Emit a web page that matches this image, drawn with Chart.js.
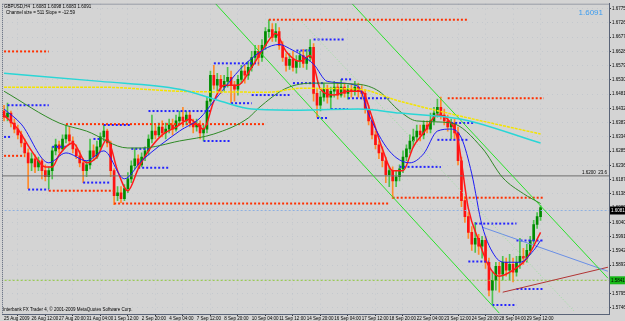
<!DOCTYPE html>
<html>
<head>
<meta charset="utf-8">
<script src="https://cdn.jsdelivr.net/npm/chart.js@4.4.0/dist/chart.umd.min.js"></script>
<style>
  html, body { margin: 0; padding: 0; background: #d4d4d4; overflow: hidden; }
  canvas { display: block; }
</style>
</head>
<body>
<canvas id="chart" width="625" height="321"></canvas>
<script>
// GBPUSD H4 candles
const opens = [
  1.6423, 1.6402, 1.6416, 1.6382, 1.6361, 1.6341, 1.6313, 1.6279, 1.6245, 1.6259,
  1.6231, 1.6252, 1.6218, 1.6197, 1.6218, 1.6286, 1.6307, 1.6293, 1.6327, 1.6341,
  1.6320, 1.6293, 1.6269, 1.6245, 1.6218, 1.6238, 1.6286, 1.6265, 1.6300, 1.6334,
  1.6354, 1.6313, 1.6218, 1.6132, 1.6142, 1.6122, 1.6156, 1.6190, 1.6235, 1.6259,
  1.6238, 1.6265, 1.6286, 1.6327, 1.6354, 1.6341, 1.6368, 1.6348, 1.6361, 1.6375,
  1.6361, 1.6389, 1.6402, 1.6389, 1.6409, 1.6382, 1.6368, 1.6375, 1.6348, 1.6361,
  1.6457, 1.6546, 1.6512, 1.6532, 1.6505, 1.6525, 1.6539, 1.6512, 1.6498, 1.6532,
  1.6560, 1.6546, 1.6573, 1.6607, 1.6628, 1.6607, 1.6649, 1.6696, 1.6703, 1.6676,
  1.6696, 1.6649, 1.6607, 1.6580, 1.6601, 1.6573, 1.6594, 1.6614, 1.6587, 1.6607,
  1.6642, 1.6484, 1.6443, 1.6471, 1.6498, 1.6471, 1.6491, 1.6505, 1.6478, 1.6505,
  1.6484, 1.6498, 1.6491, 1.6505, 1.6491, 1.6484, 1.6430, 1.6389, 1.6341, 1.6307,
  1.6279, 1.6252, 1.6204, 1.6218, 1.6183, 1.6197, 1.6224, 1.6265, 1.6293, 1.6320,
  1.6334, 1.6354, 1.6341, 1.6375, 1.6361, 1.6389, 1.6416, 1.6436, 1.6409, 1.6389,
  1.6368, 1.6382, 1.6348, 1.6252, 1.6115, 1.6060, 1.6006, 1.5965, 1.5985, 1.5958,
  1.5978, 1.5903, 1.5807, 1.5841, 1.5889, 1.5862, 1.5903, 1.5876, 1.5896, 1.5869,
  1.5903, 1.5923, 1.5917, 1.5944, 1.5978, 1.6033, 1.6060
];
const highs = [
  1.6443, 1.6450, 1.6423, 1.6395, 1.6375, 1.6354, 1.6327, 1.6293, 1.6279, 1.6272,
  1.6265, 1.6259, 1.6238, 1.6231, 1.6300, 1.6327, 1.6320, 1.6341, 1.6375, 1.6368,
  1.6334, 1.6307, 1.6286, 1.6259, 1.6252, 1.6327, 1.6307, 1.6320, 1.6348, 1.6375,
  1.6361, 1.6320, 1.6224, 1.6163, 1.6163, 1.6170, 1.6211, 1.6252, 1.6293, 1.6272,
  1.6279, 1.6300, 1.6341, 1.6409, 1.6375, 1.6382, 1.6389, 1.6382, 1.6395, 1.6395,
  1.6409, 1.6423, 1.6436, 1.6423, 1.6423, 1.6395, 1.6395, 1.6389, 1.6375, 1.6471,
  1.6560, 1.6580, 1.6553, 1.6546, 1.6546, 1.6573, 1.6560, 1.6525, 1.6546, 1.6580,
  1.6580, 1.6594, 1.6628, 1.6649, 1.6649, 1.6669, 1.6710, 1.6737, 1.6724, 1.6724,
  1.6710, 1.6662, 1.6621, 1.6621, 1.6628, 1.6614, 1.6628, 1.6635, 1.6635, 1.6669,
  1.6655, 1.6498, 1.6491, 1.6519, 1.6512, 1.6505, 1.6525, 1.6519, 1.6532, 1.6519,
  1.6512, 1.6512, 1.6525, 1.6519, 1.6512, 1.6498, 1.6443, 1.6402, 1.6354, 1.6320,
  1.6300, 1.6265, 1.6231, 1.6231, 1.6218, 1.6238, 1.6286, 1.6307, 1.6341, 1.6361,
  1.6375, 1.6375, 1.6389, 1.6389, 1.6416, 1.6436, 1.6464, 1.6471, 1.6430, 1.6409,
  1.6395, 1.6395, 1.6368, 1.6265, 1.6129, 1.6074, 1.6026, 1.6040, 1.5999, 1.5992,
  1.5992, 1.5917, 1.5869, 1.5903, 1.5903, 1.5923, 1.5917, 1.5930, 1.5917, 1.5923,
  1.5985, 1.5951, 1.5965, 1.5992, 1.6047, 1.6074, 1.6098
];
const lows = [
  1.6389, 1.6389, 1.6368, 1.6348, 1.6327, 1.6300, 1.6265, 1.6156, 1.6218, 1.6211,
  1.6218, 1.6190, 1.6183, 1.6156, 1.6190, 1.6272, 1.6279, 1.6286, 1.6313, 1.6307,
  1.6279, 1.6259, 1.6231, 1.6177, 1.6197, 1.6224, 1.6252, 1.6259, 1.6286, 1.6320,
  1.6300, 1.6197, 1.6101, 1.6115, 1.6108, 1.6115, 1.6142, 1.6177, 1.6224, 1.6224,
  1.6231, 1.6252, 1.6272, 1.6313, 1.6327, 1.6334, 1.6334, 1.6327, 1.6348, 1.6341,
  1.6354, 1.6375, 1.6368, 1.6375, 1.6368, 1.6348, 1.6354, 1.6327, 1.6320, 1.6348,
  1.6443, 1.6498, 1.6491, 1.6484, 1.6491, 1.6505, 1.6450, 1.6457, 1.6478, 1.6519,
  1.6519, 1.6532, 1.6560, 1.6587, 1.6580, 1.6594, 1.6635, 1.6676, 1.6662, 1.6662,
  1.6635, 1.6594, 1.6560, 1.6566, 1.6560, 1.6553, 1.6573, 1.6573, 1.6566, 1.6594,
  1.6457, 1.6402, 1.6423, 1.6457, 1.6450, 1.6430, 1.6471, 1.6464, 1.6471, 1.6471,
  1.6464, 1.6471, 1.6478, 1.6471, 1.6464, 1.6416, 1.6375, 1.6327, 1.6293, 1.6259,
  1.6231, 1.6177, 1.6163, 1.6122, 1.6163, 1.6183, 1.6211, 1.6252, 1.6279, 1.6300,
  1.6320, 1.6320, 1.6327, 1.6348, 1.6348, 1.6375, 1.6402, 1.6395, 1.6375, 1.6354,
  1.6327, 1.6327, 1.6238, 1.6094, 1.6040, 1.5985, 1.5944, 1.5937, 1.5930, 1.5917,
  1.5882, 1.5787, 1.5759, 1.5807, 1.5800, 1.5841, 1.5855, 1.5841, 1.5835, 1.5855,
  1.5882, 1.5896, 1.5903, 1.5930, 1.5965, 1.6019, 1.6047
];
const closes = [
  1.6402, 1.6416, 1.6382, 1.6361, 1.6341, 1.6313, 1.6279, 1.6245, 1.6259, 1.6231,
  1.6252, 1.6218, 1.6197, 1.6218, 1.6286, 1.6307, 1.6293, 1.6327, 1.6341, 1.6320,
  1.6293, 1.6269, 1.6245, 1.6218, 1.6238, 1.6286, 1.6265, 1.6300, 1.6334, 1.6354,
  1.6313, 1.6218, 1.6132, 1.6142, 1.6122, 1.6156, 1.6190, 1.6235, 1.6259, 1.6238,
  1.6265, 1.6286, 1.6327, 1.6354, 1.6341, 1.6368, 1.6348, 1.6361, 1.6375, 1.6361,
  1.6389, 1.6402, 1.6389, 1.6409, 1.6382, 1.6368, 1.6375, 1.6348, 1.6361, 1.6457,
  1.6546, 1.6512, 1.6532, 1.6505, 1.6525, 1.6539, 1.6512, 1.6498, 1.6532, 1.6560,
  1.6546, 1.6573, 1.6607, 1.6628, 1.6607, 1.6649, 1.6696, 1.6703, 1.6676, 1.6696,
  1.6649, 1.6607, 1.6580, 1.6601, 1.6573, 1.6594, 1.6614, 1.6587, 1.6607, 1.6642,
  1.6484, 1.6443, 1.6471, 1.6498, 1.6471, 1.6491, 1.6505, 1.6478, 1.6505, 1.6484,
  1.6498, 1.6491, 1.6505, 1.6491, 1.6484, 1.6430, 1.6389, 1.6341, 1.6307, 1.6279,
  1.6252, 1.6204, 1.6218, 1.6183, 1.6197, 1.6224, 1.6265, 1.6293, 1.6320, 1.6334,
  1.6354, 1.6341, 1.6375, 1.6361, 1.6389, 1.6416, 1.6436, 1.6409, 1.6389, 1.6368,
  1.6382, 1.6348, 1.6252, 1.6115, 1.6060, 1.6006, 1.5965, 1.5985, 1.5958, 1.5978,
  1.5903, 1.5807, 1.5841, 1.5889, 1.5862, 1.5903, 1.5876, 1.5896, 1.5869, 1.5903,
  1.5923, 1.5917, 1.5944, 1.5978, 1.6033, 1.6060, 1.6091
];

// time axis: one label every 8 bars
const xTickLabels = [
  "25 Aug 2009", "26 Aug 12:00", "27 Aug 20:00", "31 Aug 04:00", "1 Sep 12:00",
  "2 Sep 20:00", "4 Sep 04:00", "7 Sep 12:00", "8 Sep 20:00", "10 Sep 04:00",
  "11 Sep 12:00", "14 Sep 20:00", "16 Sep 04:00", "17 Sep 12:00", "18 Sep 20:00",
  "22 Sep 04:00", "23 Sep 12:00", "24 Sep 20:00", "28 Sep 04:00", "29 Sep 12:00"
];
const yTickValues = [
  1.6775, 1.6726, 1.6677, 1.6628, 1.6579, 1.6530, 1.6481, 1.6432, 1.6383, 1.6334, 1.6285,
  1.6236, 1.6187, 1.6138, 1.6089, 1.6040, 1.5991, 1.5942, 1.5893, 1.5844, 1.5795, 1.5746
];

// moving averages [bar, price]
const fastMA = [
  [0,1.6409],[4,1.6361],[8,1.6286],[12,1.6231],[14,1.6231],[16,1.6272],[20,1.6313],[24,1.6245],
  [27,1.6265],[30,1.6327],[33,1.6218],[36,1.6149],[39,1.6224],[42,1.6286],[46,1.6341],[50,1.6368],
  [54,1.6395],[58,1.6361],[61,1.6457],[64,1.6512],[68,1.6512],[72,1.6573],[76,1.6649],[79,1.6690],
  [82,1.6628],[86,1.6594],[89,1.6614],[92,1.6498],[96,1.6478],[100,1.6491],[104,1.6491],[107,1.6402],
  [110,1.6293],[113,1.6218],[116,1.6218],[119,1.6300],[122,1.6348],[126,1.6409],[129,1.6395],[132,1.6320],
  [135,1.6088],[138,1.5978],[141,1.5889],[144,1.5855],[148,1.5876],[152,1.5917],[156,1.6006]
];
const midMA = [
  [0,1.6430],[5,1.6378],[13,1.6245],[18,1.6279],[24,1.6252],[29,1.6286],[35,1.6190],[40,1.6252],
  [51,1.6354],[57,1.6399],[61,1.6457],[71,1.6594],[80,1.6652],[83,1.6638],[90,1.6584],[94,1.6525],
  [103,1.6508],[106,1.6413],[112,1.6286],[118,1.6245],[122,1.6276],[126,1.6354],[130,1.6361],[133,1.6330],
  [136,1.6207],[139,1.6029],[143,1.5920],[146,1.5903],[150,1.5903],[154,1.5944],[156,1.5978]
];
const slowMA = [
  [0,1.6491],[16,1.6382],[24,1.6354],[36,1.6296],[40,1.6296],[51,1.6320],[61,1.6344],[71,1.6399],
  [74,1.6433],[82,1.6501],[90,1.6519],[103,1.6515],[109,1.6491],[115,1.6423],[120,1.6389],[130,1.6382],
  [139,1.6296],[145,1.6194],[151,1.6139],[156,1.6105]
];
const yellowMA = [
  [0,1.6505],[28,1.6505],[51,1.6491],[77,1.6488],[86,1.6501],[103,1.6498],[115,1.6457],[130,1.6413],[156,1.6344]
];
const cyanMA = [
  [0,1.6553],[28,1.6525],[51,1.6498],[63,1.6457],[72,1.6430],[86,1.6426],[103,1.6430],[115,1.6416],[133,1.6395],[156,1.6313]
];

// dotted levels [price, fromBar, toBar]
const redLevels = [
  [1.6628,0,13],[1.6737,77,135],[1.6378,18,76],[1.6269,0,6],[1.6149,13,32],
  [1.6105,32,112],[1.6125,113,157],[1.6467,129,157]
];
const blueLevels = [
  [1.6443,1,13],[1.6334,0,2],[1.6300,14,18],[1.6327,26,28],[1.6153,7,13],[1.6177,23,31],
  [1.6375,29,37],[1.6293,37,42],[1.6228,39,48],[1.6423,42,60],[1.6320,58,66],[1.6587,61,74],
  [1.6450,66,72],[1.6478,72,83],[1.6631,85,89],[1.6669,90,99],[1.6519,84,93],[1.6399,91,94],
  [1.6430,95,100],[1.6467,100,112],[1.6532,98,101],[1.6382,130,137],[1.6324,126,135],
  [1.6231,115,127],[1.6036,137,149],[1.5978,149,157],[1.5906,135,141],[1.5811,149,157],[1.5756,142,149]
];

// drawn objects [bar, price] end points
const channelLow = [[61.5,1.6792],[144,1.5728]];
const channelHigh = [[101.2,1.6792],[175.6,1.5848]];
const channelMid = [[86,1.6737],[166,1.5732]];
const blueTrend = [[139.2,1.6023],[175.6,1.5872]];
const redTrend = [[145,1.5800],[175.6,1.5886]];
const fibLevel = 1.6200;
const bidPrice = 1.6081;
const alertPrice = 1.5841;

const bars = opens.map((o, i) => i);
const up = (i) => closes[i] >= opens[i];
const pts = (arr) => arr.map(([x, y]) => ({ x: x, y: y }));

function lineSet(data, color, width, dash, smooth) {
  return {
    type: "line", data: pts(data), borderColor: color, borderWidth: width,
    borderDash: dash || [], pointRadius: 0, fill: false,
    tension: smooth ? 0.4 : 0, cubicInterpolationMode: smooth ? "monotone" : "default",
    order: 1
  };
}
function levelSet(lv, color) {
  return {
    type: "line", data: [{ x: lv[1], y: lv[0] }, { x: lv[2], y: lv[0] }],
    borderColor: color, borderWidth: 2, borderDash: [2, 2], pointRadius: 0, order: 2
  };
}

const datasets = [
  {
    type: "bar", grouped: false, order: 20, barThickness: 1,
    data: bars.map((i) => ({ x: i, y: [lows[i], highs[i]] })),
    backgroundColor: (c) => (up(c.dataIndex) ? "#4fc24f" : "#ff8a2a")
  },
  {
    type: "bar", grouped: false, order: 19, barThickness: 2, minBarLength: 1,
    data: bars.map((i) => ({ x: i, y: [opens[i], closes[i]] })),
    backgroundColor: (c) => (up(c.dataIndex) ? "#008c00" : "#ff1212")
  },
  lineSet(cyanMA, "#2ad6d6", 1.5, null, true),
  lineSet(yellowMA, "#f4e400", 1.5, [3, 1], true),
  lineSet(slowMA, "#2f8a26", 1, null, true),
  lineSet(midMA, "#1c1cf5", 1, null, true),
  lineSet(fastMA, "#ff1a1a", 1.5, null, true),
  lineSet(channelLow, "#2be22b", 1),
  lineSet(channelHigh, "#2be22b", 1),
  lineSet(channelMid, "#9ee09e", 1, [1, 2]),
  lineSet(blueTrend, "#6a8fe6", 1),
  lineSet(redTrend, "#b23434", 1),
  lineSet([[-1, fibLevel], [177, fibLevel]], "#6e6e6e", 1),
  lineSet([[-1, bidPrice], [177, bidPrice]], "#8fb0e0", 1, [2, 2]),
  lineSet([[-1, alertPrice], [177, alertPrice]], "#8cc83a", 1, [2, 2])
];
redLevels.forEach((lv) => datasets.push(levelSet(lv, "#ff3000")));
blueLevels.forEach((lv) => datasets.push(levelSet(lv, "#2424ff")));

const font = { family: "Liberation Sans", size: 4.5 };

const decor = {
  id: "decor",
  beforeDraw(chart) {
    const ctx = chart.ctx;
    ctx.save();
    ctx.fillStyle = "#d4d4d4";
    ctx.fillRect(0, 0, chart.width, chart.height);
    ctx.restore();
  },
  afterDraw(chart) {
    const ctx = chart.ctx;
    const a = chart.chartArea;
    const y = chart.scales.y;
    ctx.save();
    // frame
    ctx.strokeStyle = "#5a6478";
    ctx.setLineDash([1, 1]);
    ctx.lineWidth = 1;
    ctx.strokeRect(a.left + 0.5, a.top + 0.5, a.right - a.left, a.bottom - a.top);
    ctx.setLineDash([]);

    ctx.font = "4.5px 'Liberation Sans'";
    ctx.fillStyle = "#000";
    ctx.textBaseline = "alphabetic";
    ctx.textAlign = "left";
    ctx.fillText("GBPUSD,H4  1.6083 1.6098 1.6083 1.6091", 4, 8);
    ctx.fillText("Channel size = 511 Slope = -12.59", 6, 14);
    ctx.fillText("Interbank FX Trader 4, \u00a9 2001-2009 MetaQuotes Software Corp.", 3, 311);

    ctx.textAlign = "right";
    ctx.fillText(fibLevel.toFixed(4) + "  23.6", a.right - 2, y.getPixelForValue(fibLevel) - 1.5);

    ctx.font = "8px 'Liberation Sans'";
    ctx.fillStyle = "#3d9df0";
    ctx.fillText("1.6091", 603, 15);

    // price labels on the right axis
    ctx.font = "4.5px 'Liberation Sans'";
    ctx.textAlign = "left";
    ctx.textBaseline = "middle";
    const by = y.getPixelForValue(bidPrice);
    ctx.fillStyle = "#000";
    ctx.fillRect(a.right + 1, by - 4, 15, 8);
    ctx.fillStyle = "#fff";
    ctx.fillText(bidPrice.toFixed(4), a.right + 2, by);
    const gy = y.getPixelForValue(alertPrice);
    ctx.fillStyle = "#18b818";
    ctx.fillRect(a.right + 1, gy - 4, 15, 8);
    ctx.fillStyle = "#000";
    ctx.fillText(alertPrice.toFixed(4), a.right + 2, gy);
    ctx.restore();
  }
};

new Chart(document.getElementById("chart"), {
  type: "bar",
  data: { datasets: datasets },
  options: {
    responsive: false,
    animation: false,
    devicePixelRatio: 1,
    layout: { padding: { left: 2, top: 2, right: 0, bottom: 0 } },
    plugins: { legend: { display: false }, tooltip: { enabled: false } },
    scales: {
      x: {
        type: "linear", min: -0.6, max: 175.9, offset: false,
        afterBuildTicks: (s) => { s.ticks = xTickLabels.map((t, k) => ({ value: k * 8 })); },
        afterFit: (s) => { s.height = 7; },
        ticks: {
          callback: (v) => xTickLabels[Math.round(v / 8)],
          align: "start", maxRotation: 0, autoSkip: false, padding: 0, color: "#000", font: font
        },
        grid: { color: "rgba(120,150,185,0.18)", tickLength: 2, tickColor: "#333" },
        border: { display: true, color: "#5a6478", dash: [1, 4] }
      },
      y: {
        type: "linear", position: "right", min: 1.57251, max: 1.67921,
        afterBuildTicks: (s) => { s.ticks = yTickValues.map((v) => ({ value: v })); },
        afterFit: (s) => { s.width = 16; },
        ticks: { callback: (v) => v.toFixed(4), autoSkip: false, padding: 1, color: "#000", font: font },
        grid: { color: "rgba(120,150,185,0.18)", tickLength: 2, tickColor: "#333" },
        border: { display: true, color: "#5a6478", dash: [1, 4] }
      }
    }
  },
  plugins: [decor]
});
</script>
</body>
</html>
